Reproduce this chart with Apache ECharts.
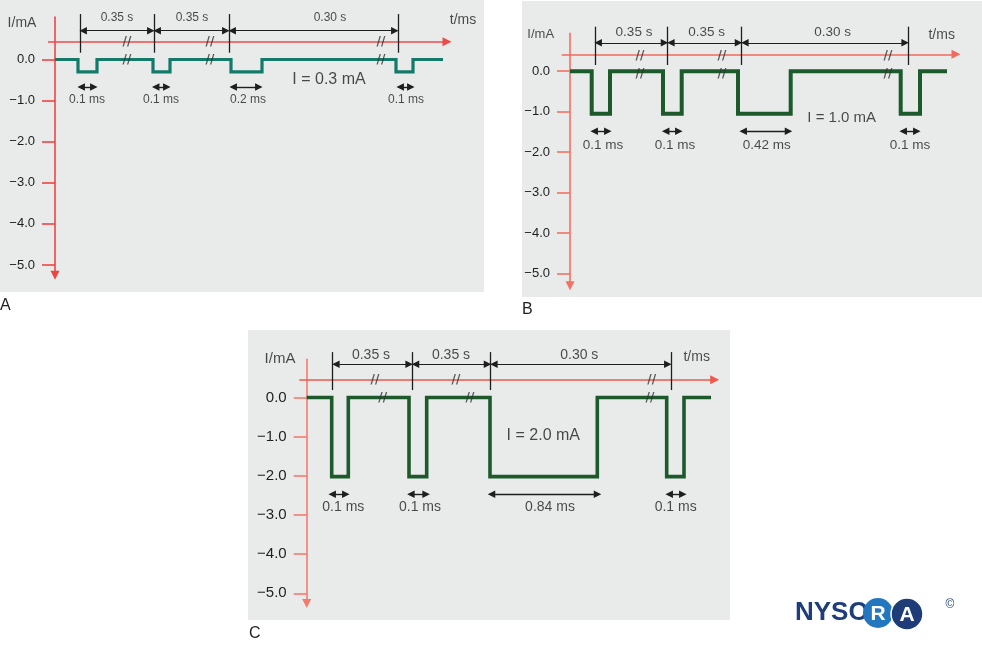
<!DOCTYPE html>
<html><head><meta charset="utf-8">
<script src="https://cdn.jsdelivr.net/npm/echarts@6/dist/echarts.min.js"></script>
<style>html,body{margin:0;padding:0;background:#fff}#c{width:982px;height:645px}</style>
</head><body><div id="c"></div><script>
// ---- shared axis ticks ----
const yTicks = [0, -1, -2, -3, -4, -5];
const yTickLabels = ['0.0', '\u22121.0', '\u22122.0', '\u22123.0', '\u22124.0', '\u22125.0'];

// ---- Panel A : I = 0.3 mA (schematic time units) ----
const aLevel = -0.3;
const aPulseStart = [23, 98, 176, 341];
const aPulseEnd = [42, 115, 207, 358];
const aTraceEnd = 388;
const aMarkers = [25, 99, 174, 343];
const aIntervalLabels = ['0.35 s', '0.35 s', '0.30 s'];
const aIntervalLabelX = [62, 137, 275];
const aWidthLabels = ['0.1 ms', '0.1 ms', '0.2 ms', '0.1 ms'];
const aWidthFrom = [23, 97.5, 175, 342];
const aWidthTo = [42, 115, 207, 359];
const aWidthLabelX = [32, 106, 193, 351];
const aBreaksTop = [72, 155, 326];
const aBreaksBottom = [72, 155, 326];
const aCurrentLabel = 'I = 0.3 mA';

// ---- Panel B : I = 1.0 mA ----
const bLevel = -1.05;
const bPulseStart = [21.7, 93, 168, 330.7];
const bPulseEnd = [40, 111.7, 220.7, 350];
const bTraceEnd = 377;
const bMarkers = [25, 97.7, 171.7, 338.3];
const bIntervalLabels = ['0.35 s', '0.35 s', '0.30 s'];
const bIntervalLabelX = [64, 136.7, 262.7];
const bWidthLabels = ['0.1 ms', '0.1 ms', '0.42 ms', '0.1 ms'];
const bWidthFrom = [21, 92.5, 170, 330];
const bWidthTo = [41, 112, 221.7, 350];
const bWidthLabelX = [33, 105, 196.7, 340];
const bBreaksTop = [70, 152, 318];
const bBreaksBottom = [70, 152, 318];
const bCurrentLabel = 'I = 1.0 mA';

// ---- Panel C : I = 2.0 mA ----
const cLevel = -2.02;
const cPulseStart = [25, 102.3, 183.3, 360];
const cPulseEnd = [41.6, 120, 290.6, 377.3];
const cTraceEnd = 404.3;
const cMarkers = [26, 105.6, 184, 364.3];
const cIntervalLabels = ['0.35 s', '0.35 s', '0.30 s'];
const cIntervalLabelX = [64.3, 144.3, 272.6];
const cWidthLabels = ['0.1 ms', '0.1 ms', '0.84 ms', '0.1 ms'];
const cWidthFrom = [22.3, 101, 181.6, 359.3];
const cWidthTo = [42.3, 122.6, 294, 379.3];
const cWidthLabelX = [36.6, 113.3, 243.3, 369];
const cBreaksTop = [68.3, 149.3, 345];
const cBreaksBottom = [76, 163.3, 343.3];
const cCurrentLabel = 'I = 2.0 mA';

// ---- layout / style (pixels & annotation heights) ----
const FONT = '"Liberation Sans", Arial, Helvetica, sans-serif';
const layouts = [
  {left:55, zeroY:59.5, unitY:41.1, xMax:400, yMin:-5.25, yMax:1.03,
   axisColor:'#ef4444', tColor:'#ef4a4a', wave:'#137a69', waveW:3.2,
   tAxisY:0.433, tFrom:-7, tTo:392, mBot:0.165, mTop:1.107, dimY:0.70, dimLabelY:1.01,
   wArrowY:-0.67, wLabelY:-0.985, breakTopY:0.433, breakBotY:0,
   cur:[274,-0.5], tms:[408,0.96], ima:[-33,0.89],
   fTick:13, fIma:14, fTms:14, fDim:12, fW:12, fCur:16},
  {left:570, zeroY:71.2, unitY:40.5, xMax:400, yMin:-5.3, yMax:0.935,
   axisColor:'#f27263', tColor:'#f26a5c', wave:'#1c5a2c', waveW:4,
   tAxisY:0.417, tFrom:-8.3, tTo:386, mBot:0.153, mTop:1.10, dimY:0.70, dimLabelY:0.95,
   wArrowY:-1.48, wLabelY:-1.84, breakTopY:0.39, breakBotY:-0.06,
   cur:[271.7,-1.14], tms:[371.7,0.89], ima:[-29.3,0.91],
   fTick:13, fIma:13, fTms:14, fDim:13.5, fW:13.5, fCur:15},
  {left:306.7, zeroY:397.5, unitY:39.15, xMax:420, yMin:-5.26, yMax:0.976,
   axisColor:'#f47b6c', tColor:'#f0584a', wave:'#1c5a2c', waveW:3.6,
   tAxisY:0.455, tFrom:-7.4, tTo:408, mBot:0.19, mTop:1.16, dimY:0.85, dimLabelY:1.085,
   wArrowY:-2.47, wLabelY:-2.79, breakTopY:0.45, breakBotY:0,
   cur:[236.6,-0.98], tms:[390,1.04], ima:[-26.7,0.975],
   fTick:15, fIma:15, fTms:14, fDim:14, fW:14, fCur:16}
];

const panels = [
  {level:aLevel, ps:aPulseStart, pe:aPulseEnd, end:aTraceEnd, markers:aMarkers, il:aIntervalLabels, ilx:aIntervalLabelX,
   wl:aWidthLabels, wf:aWidthFrom, wt:aWidthTo, wlx:aWidthLabelX, bt:aBreaksTop, bb:aBreaksBottom, cur:aCurrentLabel},
  {level:bLevel, ps:bPulseStart, pe:bPulseEnd, end:bTraceEnd, markers:bMarkers, il:bIntervalLabels, ilx:bIntervalLabelX,
   wl:bWidthLabels, wf:bWidthFrom, wt:bWidthTo, wlx:bWidthLabelX, bt:bBreaksTop, bb:bBreaksBottom, cur:bCurrentLabel},
  {level:cLevel, ps:cPulseStart, pe:cPulseEnd, end:cTraceEnd, markers:cMarkers, il:cIntervalLabels, ilx:cIntervalLabelX,
   wl:cWidthLabels, wf:cWidthFrom, wt:cWidthTo, wlx:cWidthLabelX, bt:cBreaksTop, bb:cBreaksBottom, cur:cCurrentLabel}
];

const grids = [], xAxes = [], yAxes = [], series = [];
const INSET = 3.2;

panels.forEach((p, i) => {
  const L = layouts[i];
  grids.push({left:L.left, top:L.zeroY - L.yMax*L.unitY, width:L.xMax,
    height:(L.yMax - L.yMin)*L.unitY, outerBoundsMode:'none', containLabel:false, show:false});
  xAxes.push({gridIndex:i, type:'value', min:0, max:L.xMax, show:false});
  yAxes.push({gridIndex:i, type:'value', min:L.yMin, max:L.yMax,
    axisLine:{show:true, onZero:false, symbol:['triangle','none'], symbolSize:[9,9],
      lineStyle:{color:L.axisColor, width:1.6}},
    axisTick:{show:true, customValues:yTicks, length:13, lineStyle:{color:L.axisColor, width:1.6}},
    axisLabel:{show:true, customValues:yTicks, margin:20, fontSize:L.fTick, color:'#1e1e1e', fontFamily:FONT,
      formatter:(v)=>{const k = yTicks.indexOf(Math.round(v)); return k>=0 ? yTickLabels[k] : '';}},
    splitLine:{show:false}});

  // waveform
  const wave = [[0,0]];
  p.ps.forEach((s, k) => { wave.push([s,0],[s,p.level],[p.pe[k],p.level],[p.pe[k],0]); });
  wave.push([p.end,0]);
  series.push({type:'line', xAxisIndex:i, yAxisIndex:i, data:wave, symbol:'none', clip:false,
    lineStyle:{color:L.wave, width:L.waveW, join:'miter'}, z:5, silent:true});

  // t axis
  series.push({type:'lines', coordinateSystem:'cartesian2d', xAxisIndex:i, yAxisIndex:i, clip:false, silent:true,
    symbol:['none','triangle'], symbolSize:9,
    lineStyle:{color:L.tColor, width:1.6, opacity:1, curveness:0},
    data:[{coords:[[L.tFrom, L.tAxisY],[L.tTo, L.tAxisY]]}], z:3});

  // vertical markers
  series.push({type:'lines', coordinateSystem:'cartesian2d', xAxisIndex:i, yAxisIndex:i, clip:false, silent:true,
    symbol:['none','none'],
    lineStyle:{color:'#1e1e1e', width:1.3, opacity:1},
    data:p.markers.map(m => ({coords:[[m, L.mBot],[m, L.mTop]]})), z:4});

  // interval dimension arrows
  const dims = [];
  for (let k = 0; k < p.markers.length - 1; k++) {
    dims.push({coords:[[p.markers[k] + INSET, L.dimY],[p.markers[k+1] - INSET, L.dimY]]});
  }
  series.push({type:'lines', coordinateSystem:'cartesian2d', xAxisIndex:i, yAxisIndex:i, clip:false, silent:true,
    symbol:['triangle','triangle'], symbolSize:7.5,
    lineStyle:{color:'#1e1e1e', width:1.2, opacity:1}, data:dims, z:4});

  // pulse width arrows
  series.push({type:'lines', coordinateSystem:'cartesian2d', xAxisIndex:i, yAxisIndex:i, clip:false, silent:true,
    symbol:['triangle','triangle'], symbolSize:7.5,
    lineStyle:{color:'#1e1e1e', width:1.4, opacity:1},
    data:p.wf.map((f, k) => ({coords:[[f + INSET, L.wArrowY],[p.wt[k] - INSET, L.wArrowY]]})), z:4});

  // text labels
  const lab = (x, y, text, size, extra) => ({value:[x,y], name:text,
    label:Object.assign({fontSize:size}, extra || {})});
  const texts = [];
  p.il.forEach((t, k) => texts.push(lab(p.ilx[k], L.dimLabelY, t, L.fDim)));
  p.wl.forEach((t, k) => texts.push(lab(p.wlx[k], L.wLabelY, t, L.fW)));
  texts.push(lab(L.cur[0], L.cur[1], p.cur, L.fCur));
  texts.push(lab(L.tms[0], L.tms[1], 't/ms', L.fTms));
  texts.push(lab(L.ima[0], L.ima[1], 'I/mA', L.fIma));
  const brk = {fontWeight:'bold', color:'#333', fontFamily:'"DejaVu Sans", sans-serif'};
  p.bt.forEach(x => texts.push(lab(x, L.breakTopY, '//', 12, brk)));
  p.bb.forEach(x => texts.push(lab(x, L.breakBotY, '//', 12, brk)));
  series.push({type:'scatter', xAxisIndex:i, yAxisIndex:i, symbolSize:0, clip:false, silent:true, z:6,
    data:texts,
    label:{show:true, position:'inside', formatter:'{b}', color:'#1e1e1e', fontFamily:FONT, align:'center', verticalAlign:'middle'}});
});

const chart = echarts.init(document.getElementById('c'), null, {renderer:'canvas'});
chart.setOption({
  animation:false,
  backgroundColor:'#ffffff',
  grid:grids, xAxis:xAxes, yAxis:yAxes, series:series,
  graphic:[
    {type:'rect', z:-10, shape:{x:0, y:0, width:484, height:292}, style:{fill:'#e9eaea'}},
    {type:'rect', z:-10, shape:{x:522, y:1, width:460, height:296}, style:{fill:'#e9eaea'}},
    {type:'rect', z:-10, shape:{x:248, y:330, width:482, height:290}, style:{fill:'#e9eaea'}},
    {type:'text', left:0, top:298, style:{text:'A', fontSize:16, fill:'#222', fontFamily:FONT}},
    {type:'text', left:522, top:302, style:{text:'B', fontSize:16, fill:'#222', fontFamily:FONT}},
    {type:'text', left:249, top:626, style:{text:'C', fontSize:16, fill:'#222', fontFamily:FONT}},
    {type:'text', x:795, y:613, style:{text:'NYSO', fontSize:26, fontWeight:'bold', fill:'#1f3d7a', fontFamily:FONT, verticalAlign:'middle'}},
    {type:'circle', shape:{cx:878, cy:613, r:15}, style:{fill:'#2277bf'}},
    {type:'circle', shape:{cx:907, cy:614, r:16}, style:{fill:'#1e3c78', stroke:'#ffffff', lineWidth:1.5}},
    {type:'text', x:878, y:614, style:{text:'R', fontSize:21, fontWeight:'bold', fill:'#fff', fontFamily:FONT, align:'center', verticalAlign:'middle'}},
    {type:'text', x:907, y:615, style:{text:'A', fontSize:21, fontWeight:'bold', fill:'#fff', fontFamily:FONT, align:'center', verticalAlign:'middle'}},
    {type:'text', x:950, y:605, style:{text:'\u00a9', fontSize:12, fill:'#1e3c78', fontFamily:FONT, align:'center', verticalAlign:'middle'}}
  ]
});
</script></body></html>
